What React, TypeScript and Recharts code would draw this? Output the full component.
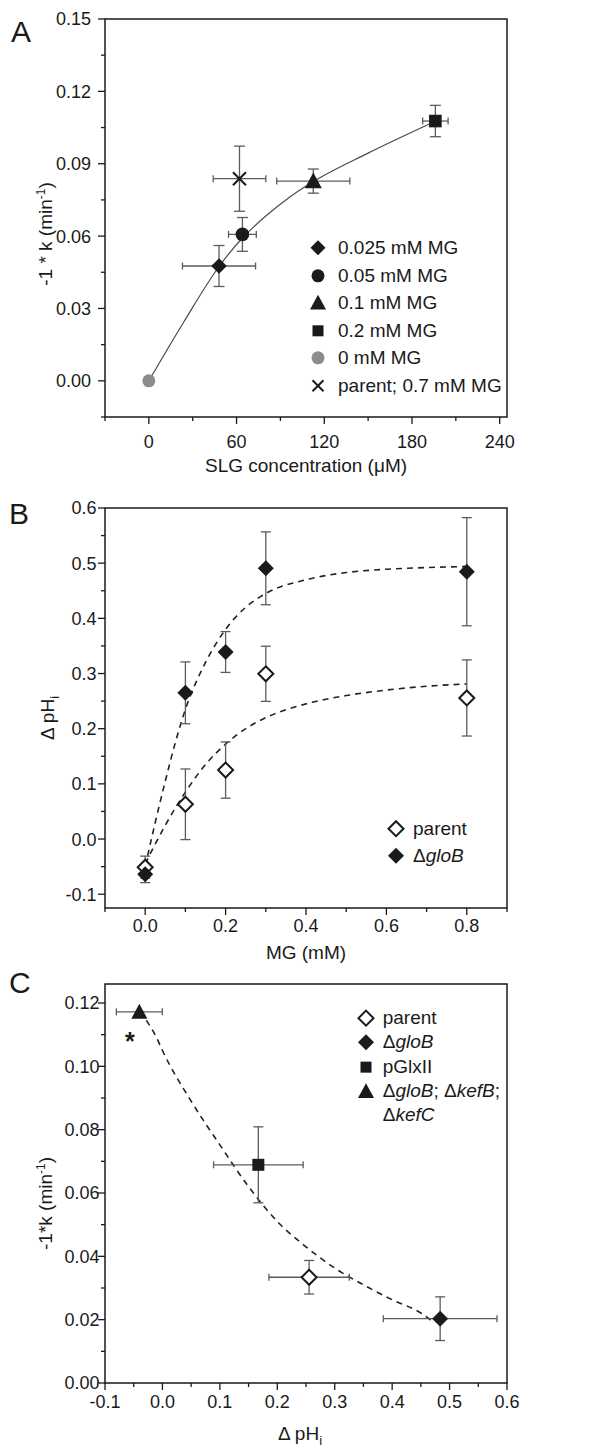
import React from 'react';
import { ComposedChart, Scatter, Line, XAxis, YAxis, ErrorBar, ReferenceArea, Legend } from 'recharts';

const FONT = '"Liberation Sans", Arial, Helvetica, sans-serif';
const INK = '#1a1a1a';
const ERR = '#5c5c5c';

// ---------------- Panel A data ----------------
const a025 = [{ x: 48, y: 0.0476, ex: 25, ey: 0.0085 }];
const a05 = [{ x: 64, y: 0.0607, ex: 9.5, ey: 0.007 }];
const a1 = [{ x: 112.5, y: 0.0828, ex: 25, ey: 0.005 }];
const a2 = [{ x: 196, y: 0.1077, ex: 8.7, ey: 0.0065 }];
const a0 = [{ x: 0, y: 0 }];
const aParent = [{ x: 62, y: 0.0838, ex: 18, ey: 0.0135 }];
const aFit = [
  { x: 0, y: 0 }, { x: 24, y: 0.0245 }, { x: 48, y: 0.0474 }, { x: 64, y: 0.0592 },
  { x: 80, y: 0.0683 }, { x: 96, y: 0.076 }, { x: 112.5, y: 0.0826 }, { x: 150, y: 0.0944 },
  { x: 196, y: 0.1076 },
];
const aLegendLabels = ['0.025 mM MG', '0.05 mM MG', '0.1 mM MG', '0.2 mM MG', '0 mM MG', 'parent; 0.7 mM MG'];
const aXTicks = [-30, 0, 30, 60, 90, 120, 150, 180, 210, 240];
const aXMajor = [0, 60, 120, 180, 240];
const aYTicks = [-0.015, 0, 0.015, 0.03, 0.045, 0.06, 0.075, 0.09, 0.105, 0.12, 0.135, 0.15];
const aYMajor = [0, 0.03, 0.06, 0.09, 0.12, 0.15];

// ---------------- Panel B data ----------------
const bParent = [
  { x: 0, y: -0.051, ey: 0.02 }, { x: 0.1, y: 0.063, ey: 0.064 }, { x: 0.2, y: 0.125, ey: 0.051 },
  { x: 0.3, y: 0.2995, ey: 0.05 }, { x: 0.8, y: 0.2557, ey: 0.069 },
];
const bGloB = [
  { x: 0, y: -0.064, ey: 0.015 }, { x: 0.1, y: 0.265, ey: 0.056 }, { x: 0.2, y: 0.339, ey: 0.037 },
  { x: 0.3, y: 0.4907, ey: 0.066 }, { x: 0.8, y: 0.4845, ey: 0.098 },
];
const bFitGloB = [
  { x: 0, y: -0.05 }, { x: 0.025, y: 0.03 }, { x: 0.05, y: 0.105 }, { x: 0.075, y: 0.175 },
  { x: 0.1, y: 0.235 }, { x: 0.15, y: 0.32 }, { x: 0.2, y: 0.38 }, { x: 0.25, y: 0.42 },
  { x: 0.3, y: 0.445 }, { x: 0.4, y: 0.47 }, { x: 0.5, y: 0.483 }, { x: 0.6, y: 0.489 },
  { x: 0.7, y: 0.492 }, { x: 0.8, y: 0.494 },
];
const bFitParent = [
  { x: 0, y: -0.045 }, { x: 0.05, y: 0.025 }, { x: 0.1, y: 0.085 }, { x: 0.15, y: 0.135 },
  { x: 0.2, y: 0.172 }, { x: 0.25, y: 0.2 }, { x: 0.3, y: 0.22 }, { x: 0.4, y: 0.245 },
  { x: 0.5, y: 0.26 }, { x: 0.6, y: 0.27 }, { x: 0.7, y: 0.277 }, { x: 0.8, y: 0.281 },
];
const bXTicks = [-0.1, 0, 0.1, 0.2, 0.3, 0.4, 0.5, 0.6, 0.7, 0.8, 0.9];
const bXMajor = [0, 0.2, 0.4, 0.6, 0.8];
const bYTicks = [-0.1, -0.05, 0, 0.05, 0.1, 0.15, 0.2, 0.25, 0.3, 0.35, 0.4, 0.45, 0.5, 0.55, 0.6];
const bYMajor = [-0.1, 0, 0.1, 0.2, 0.3, 0.4, 0.5, 0.6];

// ---------------- Panel C data ----------------
const cParent = [{ x: 0.2554, y: 0.0334, ex: 0.07, ey: 0.0053 }];
const cGloB = [{ x: 0.4836, y: 0.0203, ex: 0.099, ey: 0.0069 }];
const cPGlx = [{ x: 0.167, y: 0.0689, ex: 0.078, ey: 0.012 }];
const cTriple = [{ x: -0.0402, y: 0.1172, ex: 0.04 }];
const cFit = [
  { x: -0.028, y: 0.1145 }, { x: -0.01, y: 0.109 }, { x: 0, y: 0.105 }, { x: 0.05, y: 0.089 },
  { x: 0.1, y: 0.0752 }, { x: 0.15, y: 0.062 }, { x: 0.2, y: 0.051 }, { x: 0.25, y: 0.043 },
  { x: 0.3, y: 0.0363 }, { x: 0.35, y: 0.031 }, { x: 0.4, y: 0.0263 }, { x: 0.45, y: 0.0221 },
  { x: 0.47, y: 0.0195 },
];
const cXTicks = [-0.1, -0.05, 0, 0.05, 0.1, 0.15, 0.2, 0.25, 0.3, 0.35, 0.4, 0.45, 0.5, 0.55, 0.6];
const cXMajor = [-0.1, 0, 0.1, 0.2, 0.3, 0.4, 0.5, 0.6];
const cYTicks = [0, 0.01, 0.02, 0.03, 0.04, 0.05, 0.06, 0.07, 0.08, 0.09, 0.1, 0.11, 0.12];
const cYMajor = [0, 0.02, 0.04, 0.06, 0.08, 0.1, 0.12];

// ---------------- symbols ----------------
type Sym = 'diamond' | 'openDiamond' | 'circle' | 'grayCircle' | 'triangle' | 'square' | 'x';

function symbolEl(kind: Sym, cx: number, cy: number, s: number) {
  switch (kind) {
    case 'diamond':
      return <path d={`M${cx},${cy - s}L${cx + s},${cy}L${cx},${cy + s}L${cx - s},${cy}Z`} fill={INK} />;
    case 'openDiamond':
      return <path d={`M${cx},${cy - s}L${cx + s},${cy}L${cx},${cy + s}L${cx - s},${cy}Z`} fill="#fff" stroke={INK} strokeWidth={2} />;
    case 'circle':
      return <circle cx={cx} cy={cy} r={s} fill={INK} />;
    case 'grayCircle':
      return <circle cx={cx} cy={cy} r={s} fill="#8c8c8c" />;
    case 'triangle':
      return <path d={`M${cx},${cy - s}L${cx + s},${cy + s * 0.85}L${cx - s},${cy + s * 0.85}Z`} fill={INK} />;
    case 'square':
      return <rect x={cx - s} y={cy - s} width={2 * s} height={2 * s} fill={INK} />;
    case 'x':
      return (
        <g stroke={INK} strokeWidth={2}>
          <line x1={cx - s} y1={cy - s} x2={cx + s} y2={cy + s} />
          <line x1={cx - s} y1={cy + s} x2={cx + s} y2={cy - s} />
        </g>
      );
  }
  return null;
}

const shape = (kind: Sym, s: number) => (p: any) =>
  p == null || p.cx == null ? <g /> : symbolEl(kind, p.cx, p.cy, s);

// ---------------- ticks ----------------
const isIn = (arr: number[], v: number) => arr.some((m) => Math.abs(m - v) < 1e-9);

const xTick = (major: number[], dec: number, base: number) => (p: any) => {
  const v = p.payload.value;
  const mj = isIn(major, v);
  return (
    <g>
      <line x1={p.x} x2={p.x} y1={p.y} y2={p.y + (mj ? 7 : 4)} stroke={INK} strokeWidth={1.3} />
      {mj && (
        <text x={p.x} y={p.y + base} textAnchor="middle" fontSize={18} fill={INK} fontFamily={FONT}>
          {v.toFixed(dec)}
        </text>
      )}
    </g>
  );
};

const yTick = (major: number[], dec: number, gap: number) => (p: any) => {
  const v = p.payload.value;
  const mj = isIn(major, v);
  return (
    <g>
      <line x1={p.x} x2={p.x - (mj ? 7 : 4)} y1={p.y} y2={p.y} stroke={INK} strokeWidth={1.3} />
      {mj && (
        <text x={p.x - gap} y={p.y} dy="0.36em" textAnchor="end" fontSize={18} fill={INK} fontFamily={FONT}>
          {v.toFixed(dec)}
        </text>
      )}
    </g>
  );
};

const xTitle = (content: React.ReactNode, base: number, dx = 0) => (p: any) => {
  const vb = p.viewBox || { x: 105, y: 0, width: 402, height: 60 };
  return (
    <text x={vb.x + vb.width / 2 + dx} y={vb.y + base} textAnchor="middle" fontSize={19} fill={INK} fontFamily={FONT}>
      {content}
    </text>
  );
};

const yTitle = (content: React.ReactNode, cx: number, dyc: number) => (p: any) => {
  const vb = p.viewBox || { x: 0, y: 0, width: 105, height: 400 };
  const cy = vb.y + vb.height / 2 + dyc;
  return (
    <text x={cx} y={cy} dy="0.36em" transform={`rotate(-90 ${cx} ${cy})`} textAnchor="middle" fontSize={19} fill={INK} fontFamily={FONT}>
      {content}
    </text>
  );
};

// ---------------- legend ----------------
type LegItem = { kind: Sym; size: number; label: React.ReactNode };

function LegendBox({ items, lineHeight, gap }: { items: LegItem[]; lineHeight: number; gap: number }) {
  return (
    <div style={{ fontFamily: FONT, fontSize: 19, color: INK, lineHeight: `${lineHeight}px` }}>
      {items.map((it, i) => (
        <div key={i} style={{ display: 'flex', alignItems: 'flex-start' }}>
          <svg width={18} height={lineHeight} style={{ flex: 'none', display: 'block' }}>
            {symbolEl(it.kind, 9, lineHeight / 2, it.size)}
          </svg>
          <span style={{ marginLeft: gap, whiteSpace: 'nowrap' }}>{it.label}</span>
        </div>
      ))}
    </div>
  );
}

const aLegendKinds: [Sym, number][] = [['diamond', 7.5], ['circle', 6.5], ['triangle', 8], ['square', 5.5], ['grayCircle', 6.5], ['x', 5.5]];
const aLegendItems: LegItem[] = aLegendLabels.map((l, i) => ({ kind: aLegendKinds[i][0], size: aLegendKinds[i][1], label: l }));

const bLegendItems: LegItem[] = [
  { kind: 'openDiamond', size: 7.5, label: 'parent' },
  { kind: 'diamond', size: 8, label: <>Δ<i>gloB</i></> },
];

const cLegendItems: LegItem[] = [
  { kind: 'openDiamond', size: 7.5, label: 'parent' },
  { kind: 'diamond', size: 8, label: <>Δ<i>gloB</i></> },
  { kind: 'square', size: 5.5, label: 'pGlxII' },
  { kind: 'triangle', size: 8, label: <>Δ<i>gloB</i>; Δ<i>kefB</i>;<br />Δ<i>kefC</i></> },
];

// ---------------- panels ----------------
const axisCommon = {
  type: 'number' as const,
  allowDataOverflow: true,
  interval: 0 as const,
  tickSize: 0,
  tickMargin: 0,
  axisLine: false,
  tickLine: false,
};

function PanelA() {
  return (
    <ComposedChart width={611} height={480} margin={{ top: 19, right: 104, bottom: 3, left: 0 }}>
      <XAxis {...axisCommon} dataKey="x" domain={[-30, 245]} ticks={aXTicks} height={60}
        tick={xTick(aXMajor, 0, 31)}
        label={{ content: xTitle('SLG concentration (μM)', 55) }} />
      <YAxis {...axisCommon} dataKey="y" domain={[-0.015, 0.15]} ticks={aYTicks} width={105}
        tick={yTick(aYMajor, 2, 14)}
        label={{ content: yTitle(<>-1 * k (min<tspan dy={-7} fontSize={12}>-1</tspan><tspan dy={7}>)</tspan></>, 45, 16) }} />
      <ReferenceArea x1={-30} x2={245} y1={-0.015} y2={0.15} fill="none" stroke={INK} strokeWidth={1.5} ifOverflow="visible" />
      <Line data={aFit} dataKey="y" type="monotone" dot={false} stroke="#4a4a4a" strokeWidth={1.2} isAnimationActive={false} legendType="none" />
      <Scatter data={a0} shape={shape('grayCircle', 6.5)} isAnimationActive={false} />
      <Scatter data={a025} shape={shape('diamond', 7.8)} isAnimationActive={false}>
        <ErrorBar dataKey="ex" direction="x" width={3.5} stroke={ERR} strokeWidth={1.3} />
        <ErrorBar dataKey="ey" direction="y" width={5.5} stroke={ERR} strokeWidth={1.3} />
      </Scatter>
      <Scatter data={a05} shape={shape('circle', 6.8)} isAnimationActive={false}>
        <ErrorBar dataKey="ex" direction="x" width={3.5} stroke={ERR} strokeWidth={1.3} />
        <ErrorBar dataKey="ey" direction="y" width={5.5} stroke={ERR} strokeWidth={1.3} />
      </Scatter>
      <Scatter data={a1} shape={shape('triangle', 8.5)} isAnimationActive={false}>
        <ErrorBar dataKey="ex" direction="x" width={3.5} stroke={ERR} strokeWidth={1.3} />
        <ErrorBar dataKey="ey" direction="y" width={5.5} stroke={ERR} strokeWidth={1.3} />
      </Scatter>
      <Scatter data={a2} shape={shape('square', 6.3)} isAnimationActive={false}>
        <ErrorBar dataKey="ex" direction="x" width={3.5} stroke={ERR} strokeWidth={1.3} />
        <ErrorBar dataKey="ey" direction="y" width={5.5} stroke={ERR} strokeWidth={1.3} />
      </Scatter>
      <Scatter data={aParent} shape={shape('x', 6.5)} isAnimationActive={false}>
        <ErrorBar dataKey="ex" direction="x" width={3.5} stroke={ERR} strokeWidth={1.3} />
        <ErrorBar dataKey="ey" direction="y" width={5.5} stroke={ERR} strokeWidth={1.3} />
      </Scatter>
      <Legend layout="vertical" align="center" verticalAlign="middle"
        wrapperStyle={{ left: 309, top: 234, width: 'auto', height: 'auto' }}
        content={() => <LegendBox items={aLegendItems} lineHeight={27.6} gap={11} />} />
    </ComposedChart>
  );
}

function PanelB() {
  return (
    <ComposedChart width={611} height={476} margin={{ top: 18, right: 104, bottom: 0, left: 0 }}>
      <XAxis {...axisCommon} dataKey="x" domain={[-0.1, 0.9]} ticks={bXTicks} height={58}
        tick={xTick(bXMajor, 1, 24)}
        label={{ content: xTitle('MG (mM)', 51) }} />
      <YAxis {...axisCommon} dataKey="y" domain={[-0.125, 0.6]} ticks={bYTicks} width={105}
        tick={yTick(bYMajor, 1, 8.5)}
        label={{ content: yTitle(<>Δ pH<tspan dy={5} fontSize={13}>i</tspan></>, 47, 10) }} />
      <ReferenceArea x1={-0.1} x2={0.9} y1={-0.125} y2={0.6} fill="none" stroke={INK} strokeWidth={1.5} ifOverflow="visible" />
      <Line data={bFitGloB} dataKey="y" type="monotone" dot={false} stroke="#222" strokeWidth={1.6} strokeDasharray="6 5" isAnimationActive={false} legendType="none" />
      <Line data={bFitParent} dataKey="y" type="monotone" dot={false} stroke="#222" strokeWidth={1.6} strokeDasharray="6 5" isAnimationActive={false} legendType="none" />
      <Scatter data={bParent} shape={shape('openDiamond', 7.5)} isAnimationActive={false}>
        <ErrorBar dataKey="ey" direction="y" width={5} stroke={ERR} strokeWidth={1.3} />
      </Scatter>
      <Scatter data={bGloB} shape={shape('diamond', 8)} isAnimationActive={false}>
        <ErrorBar dataKey="ey" direction="y" width={5} stroke={ERR} strokeWidth={1.3} />
      </Scatter>
      <Legend layout="vertical" align="center" verticalAlign="middle"
        wrapperStyle={{ left: 387, top: 324.6, width: 'auto', height: 'auto' }}
        content={() => <LegendBox items={bLegendItems} lineHeight={27.4} gap={8} />} />
    </ComposedChart>
  );
}

function PanelC() {
  return (
    <ComposedChart width={611} height={488} margin={{ top: 18, right: 104, bottom: 1, left: 0 }}>
      <XAxis {...axisCommon} dataKey="x" domain={[-0.1, 0.6]} ticks={cXTicks} height={70}
        tick={xTick(cXMajor, 1, 25)}
        label={{ content: xTitle(<>Δ pH<tspan dy={5} fontSize={13}>i</tspan></>, 57, -6) }} />
      <YAxis {...axisCommon} dataKey="y" domain={[0, 0.126]} ticks={cYTicks} width={105}
        tick={yTick(cYMajor, 2, 5.5)}
        label={{ content: yTitle(<>-1*k (min<tspan dy={-7} fontSize={12}>-1</tspan><tspan dy={7}>)</tspan></>, 45, 20) }} />
      <ReferenceArea x1={-0.1} x2={0.6} y1={0} y2={0.126} fill="none" stroke={INK} strokeWidth={1.5} ifOverflow="visible" />
      <Line data={cFit} dataKey="y" type="monotone" dot={false} stroke="#222" strokeWidth={1.6} strokeDasharray="6 5" isAnimationActive={false} legendType="none" />
      <Scatter data={cTriple} shape={shape('triangle', 8)} isAnimationActive={false}>
        <ErrorBar dataKey="ex" direction="x" width={3.5} stroke={ERR} strokeWidth={1.3} />
      </Scatter>
      <Scatter data={cPGlx} shape={shape('square', 6)} isAnimationActive={false}>
        <ErrorBar dataKey="ex" direction="x" width={3.5} stroke={ERR} strokeWidth={1.3} />
        <ErrorBar dataKey="ey" direction="y" width={5} stroke={ERR} strokeWidth={1.3} />
      </Scatter>
      <Scatter data={cParent} shape={shape('openDiamond', 7.5)} isAnimationActive={false}>
        <ErrorBar dataKey="ex" direction="x" width={3.5} stroke={ERR} strokeWidth={1.3} />
        <ErrorBar dataKey="ey" direction="y" width={5} stroke={ERR} strokeWidth={1.3} />
      </Scatter>
      <Scatter data={cGloB} shape={shape('diamond', 8)} isAnimationActive={false}>
        <ErrorBar dataKey="ex" direction="x" width={3.5} stroke={ERR} strokeWidth={1.3} />
        <ErrorBar dataKey="ey" direction="y" width={5} stroke={ERR} strokeWidth={1.3} />
      </Scatter>
      <Legend layout="vertical" align="center" verticalAlign="middle"
        wrapperStyle={{ left: 356.7, top: 40.2, width: 'auto', height: 'auto' }}
        content={() => <LegendBox items={cLegendItems} lineHeight={24.3} gap={8} />} />
    </ComposedChart>
  );
}

const letter = (left: number, top: number): React.CSSProperties => ({
  position: 'absolute', left, top, fontSize: 30, lineHeight: '30px', fontFamily: FONT, color: INK,
});

export default function App() {
  return (
    <div style={{ position: 'absolute', left: 0, top: 0, width: 611, height: 1454, background: '#fff', fontFamily: FONT, color: INK, overflow: 'hidden' }}>
      <div style={{ position: 'absolute', left: 0, top: 0 }}><PanelA /></div>
      <div style={{ position: 'absolute', left: 0, top: 490 }}><PanelB /></div>
      <div style={{ position: 'absolute', left: 0, top: 966 }}><PanelC /></div>
      <div style={letter(11, 16.6)}>A</div>
      <div style={letter(9, 498.6)}>B</div>
      <div style={letter(9, 967.6)}>C</div>
      <div style={{ position: 'absolute', left: 125, top: 1029, fontSize: 25, fontWeight: 700, lineHeight: '25px', fontFamily: FONT, color: INK }}>*</div>
    </div>
  );
}
